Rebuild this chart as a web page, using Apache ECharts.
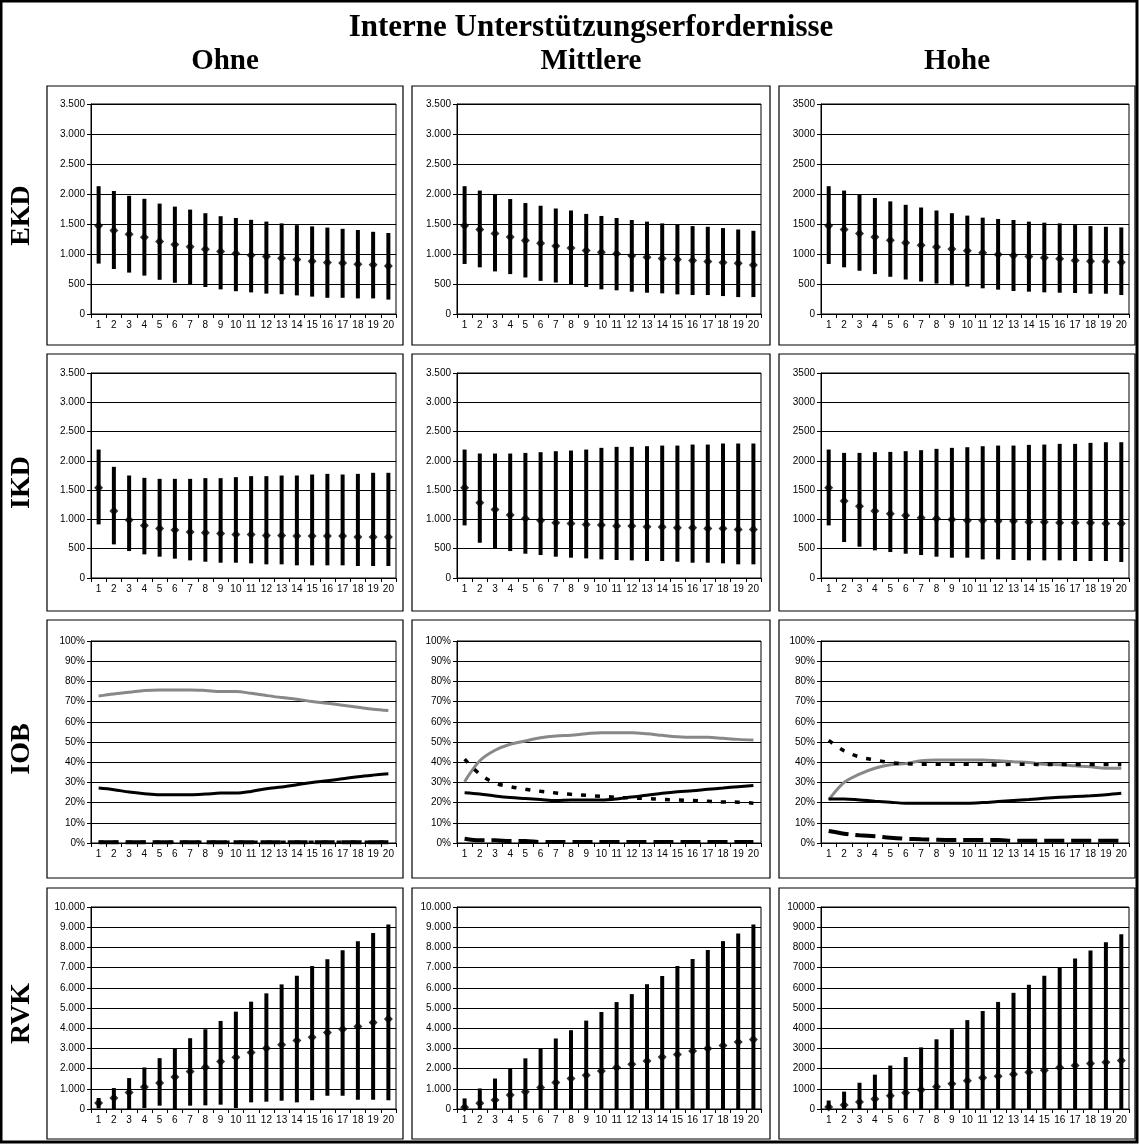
<!DOCTYPE html>
<html>
<head>
<meta charset="utf-8">
<title>Interne Unterstützungserfordernisse</title>
<script src="https://cdn.jsdelivr.net/npm/echarts@6/dist/echarts.min.js"></script>
<style>
  html, body { margin: 0; padding: 0; background: #fff; }
  #chart { width: 1139px; height: 1144px; }
</style>
</head>
<body>
<div id="chart"></div>
<script>
// ---- Labels ----
const mainTitle = 'Interne Unterstützungserfordernisse';
const columnTitles = ['Ohne', 'Mittlere', 'Hohe'];
const rowTitles = ['EKD', 'IKD', 'IOB', 'RVK'];
const periods = ['1','2','3','4','5','6','7','8','9','10','11','12','13','14','15','16','17','18','19','20'];

// ---- EKD: upper end, mean, lower end per period ----
const ekdOhneHigh = [2130,2050,1970,1920,1840,1790,1740,1680,1630,1600,1570,1540,1510,1480,1460,1440,1420,1400,1370,1350];
const ekdOhneMean = [1470,1390,1330,1280,1210,1160,1120,1080,1040,1010,980,960,930,910,880,860,850,830,820,800];
const ekdOhneLow  = [840,750,690,640,570,520,490,450,410,380,360,340,330,310,290,270,270,260,260,240];

const ekdMittlereHigh = [2130,2057,1990,1916,1849,1804,1758,1725,1668,1634,1600,1567,1539,1510,1488,1465,1454,1432,1409,1387];
const ekdMittlereMean = [1470,1409,1341,1285,1223,1178,1133,1099,1060,1031,1003,969,947,924,907,890,873,857,845,817];
const ekdMittlereLow  = [834,778,710,665,609,552,524,485,451,411,395,372,355,344,327,316,316,299,282,282];

const ekdHoheHigh = [2130,2057,1990,1933,1877,1820,1775,1725,1680,1640,1606,1584,1567,1539,1522,1510,1482,1465,1454,1443];
const ekdHoheMean = [1470,1409,1341,1285,1229,1189,1144,1116,1082,1054,1020,992,975,958,936,919,890,879,873,862];
const ekdHoheLow  = [834,778,721,665,620,575,541,507,479,457,428,406,383,372,361,355,350,338,338,316];

// ---- IKD ----
const ikdOhneHigh = [2193,1898,1750,1710,1693,1693,1693,1705,1705,1722,1739,1739,1750,1750,1767,1778,1767,1778,1796,1796];
const ikdOhneMean = [1540,1142,989,898,847,818,784,773,761,744,744,727,727,716,716,716,716,699,699,699];
const ikdOhneLow  = [915,574,460,403,364,330,301,278,261,261,250,233,233,216,216,216,216,205,205,205];

const ikdMittlereHigh = [2193,2125,2125,2125,2136,2148,2165,2176,2193,2222,2239,2239,2250,2261,2261,2278,2278,2296,2296,2296];
const ikdMittlereMean = [1540,1284,1170,1074,1017,983,943,932,915,903,886,886,875,869,858,858,847,847,830,830];
const ikdMittlereLow  = [898,602,500,460,415,392,364,347,335,318,307,301,290,290,278,261,261,250,233,233];

const ikdHoheHigh = [2193,2136,2136,2148,2153,2165,2182,2205,2222,2233,2250,2261,2261,2273,2278,2290,2290,2307,2318,2318];
const ikdHoheMean = [1540,1313,1227,1142,1097,1068,1028,1017,1000,983,983,972,972,955,955,943,943,943,932,932];
const ikdHoheLow  = [898,614,534,472,443,415,392,364,347,347,318,318,307,301,301,301,290,290,290,273];

// ---- IOB (percent) ----
const iobOhneGrey   = [72.8,73.8,74.6,75.5,75.8,75.8,75.8,75.5,75.0,75.0,74.1,73.0,72.0,71.2,70.0,69.2,68.2,67.2,66.2,65.6];
const iobOhneSolid  = [27.2,26.4,25.2,24.4,23.9,23.9,23.9,24.2,24.7,24.7,25.5,26.9,27.7,28.8,30.0,30.8,31.8,32.8,33.6,34.3];
const iobOhneDotted = [0.4,0.4,0.4,0.4,0.4,0.4,0.4,0.4,0.4,0.4,0.4,0.4,0.4,0.4,0.4,0.4,0.4,0.4,0.4,0.4];
const iobOhneDashed = [0.4,0.4,0.4,0.4,0.4,0.4,0.4,0.4,0.4,0.4,0.4,0.4,0.4,0.4,0.4,0.4,0.4,0.4,0.4,0.4];

const iobMittlereGrey   = [30.3,40.7,45.9,48.9,50.5,52.1,53.0,53.4,54.1,54.6,54.6,54.6,54.1,53.3,52.6,52.3,52.3,51.8,51.3,51.0];
const iobMittlereSolid  = [24.9,24.3,23.3,22.5,22.0,21.5,21.0,21.3,21.3,21.3,21.8,22.8,23.6,24.6,25.4,25.9,26.6,27.2,27.9,28.5];
const iobMittlereDotted = [41.5,34.1,29.7,27.9,26.6,25.6,24.8,24.1,23.6,23.1,22.6,22.3,22.0,21.6,21.3,21.1,20.7,20.3,20.2,19.7];
const iobMittlereDashed = [2.1,1.3,1.3,1.0,1.0,0.5,0.5,0.5,0.5,0.5,0.5,0.5,0.5,0.5,0.5,0.5,0.5,0.5,0.5,0.5];

const iobHoheGrey   = [21.3,30.0,34.1,37.0,38.7,39.3,40.7,41.1,41.1,41.1,41.1,40.7,40.2,39.8,39.0,38.7,38.2,37.7,37.0,37.0];
const iobHoheSolid  = [21.8,21.8,21.3,20.7,20.2,19.7,19.7,19.7,19.7,19.7,20.0,20.5,21.0,21.5,22.1,22.6,23.0,23.4,23.9,24.6];
const iobHoheDotted = [50.8,45.6,42.6,41.1,39.8,39.3,39.0,39.0,39.0,39.0,39.0,38.6,39.0,39.0,38.8,38.8,38.8,38.8,38.8,38.8];
const iobHoheDashed = [5.9,4.6,3.8,3.3,2.6,2.1,1.8,1.6,1.5,1.5,1.5,1.5,1.1,1.1,1.1,1.1,1.1,1.1,1.1,1.1];

// ---- RVK ----
const rvkOhneHigh = [543,1036,1530,2056,2517,3010,3504,3948,4359,4820,5313,5725,6169,6597,7074,7419,7863,8307,8719,9130];
const rvkOhneMean = [296,543,822,1086,1283,1579,1859,2073,2352,2566,2797,3010,3175,3389,3553,3784,3948,4080,4277,4458];
const rvkOhneLow  = [30,0,0,49,165,0,165,181,214,49,329,362,411,329,428,658,658,461,461,428];

const rvkMittlereHigh = [524,1016,1508,2016,2508,3000,3491,3901,4376,4802,5294,5687,6179,6589,7081,7425,7868,8310,8687,9129];
const rvkMittlereMean = [82,279,443,688,852,1065,1311,1508,1672,1885,2049,2213,2377,2573,2704,2868,2999,3147,3311,3442];
const rvkMittlereLow  = [0,0,0,0,0,0,0,0,0,0,0,0,0,0,0,0,0,0,0,0];

const rvkHoheHigh = [420,860,1300,1700,2150,2570,3050,3450,3950,4400,4850,5300,5750,6150,6600,7000,7450,7850,8250,8650];
const rvkHoheMean = [100,200,350,500,650,800,950,1100,1250,1400,1550,1620,1720,1820,1920,2050,2150,2250,2320,2400];
const rvkHoheLow  = [0,0,0,0,0,0,0,0,0,0,0,0,0,0,0,0,0,0,0,0];

// ---- Page geometry ----
const plotLeft   = [91, 457, 821];
const plotRight  = [396, 761, 1129];
const plotTop    = [104, 373, 641, 907];
const plotBottom = [314, 578, 843, 1109];
const boxX = [[47, 403], [412, 770], [779, 1135]];
const boxY = [[86, 345], [354, 611], [620, 878], [888, 1139]];

const sansFont = 'Liberation Sans, Arial, sans-serif';
const serifFont = 'Liberation Serif, Times New Roman, serif';

function withDots(v) {
  return String(v).replace(/\B(?=(\d{3})+(?!\d))/g, '.');
}

// Panel definitions: kind 'range' = min/max bars with mean marker, 'share' = lines
const panels = [
  { row: 0, col: 0, kind: 'range', max: 3500, step: 500, high: ekdOhneHigh, mean: ekdOhneMean, low: ekdOhneLow },
  { row: 0, col: 1, kind: 'range', max: 3500, step: 500, high: ekdMittlereHigh, mean: ekdMittlereMean, low: ekdMittlereLow },
  { row: 0, col: 2, kind: 'range', max: 3500, step: 500, high: ekdHoheHigh, mean: ekdHoheMean, low: ekdHoheLow },
  { row: 1, col: 0, kind: 'range', max: 3500, step: 500, high: ikdOhneHigh, mean: ikdOhneMean, low: ikdOhneLow },
  { row: 1, col: 1, kind: 'range', max: 3500, step: 500, high: ikdMittlereHigh, mean: ikdMittlereMean, low: ikdMittlereLow },
  { row: 1, col: 2, kind: 'range', max: 3500, step: 500, high: ikdHoheHigh, mean: ikdHoheMean, low: ikdHoheLow },
  { row: 2, col: 0, kind: 'share', grey: iobOhneGrey, solid: iobOhneSolid, dotted: iobOhneDotted, dashed: iobOhneDashed },
  { row: 2, col: 1, kind: 'share', grey: iobMittlereGrey, solid: iobMittlereSolid, dotted: iobMittlereDotted, dashed: iobMittlereDashed },
  { row: 2, col: 2, kind: 'share', grey: iobHoheGrey, solid: iobHoheSolid, dotted: iobHoheDotted, dashed: iobHoheDashed },
  { row: 3, col: 0, kind: 'range', max: 10000, step: 1000, high: rvkOhneHigh, mean: rvkOhneMean, low: rvkOhneLow },
  { row: 3, col: 1, kind: 'range', max: 10000, step: 1000, high: rvkMittlereHigh, mean: rvkMittlereMean, low: rvkMittlereLow },
  { row: 3, col: 2, kind: 'range', max: 10000, step: 1000, high: rvkHoheHigh, mean: rvkHoheMean, low: rvkHoheLow }
];

const grids = [], xAxes = [], yAxes = [], series = [];

function rangeBar(params, api) {
  const x = api.value(0);
  const lo = api.coord([x, api.value(1)]);
  const hi = api.coord([x, api.value(2)]);
  return {
    type: 'line',
    shape: { x1: lo[0], y1: lo[1], x2: hi[0], y2: hi[1] },
    style: { stroke: '#000', lineWidth: 4, lineCap: 'butt' }
  };
}

panels.forEach((p, i) => {
  grids.push({
    left: plotLeft[p.col],
    top: plotTop[p.row],
    width: plotRight[p.col] - plotLeft[p.col],
    height: plotBottom[p.row] - plotTop[p.row],
    show: true,
    borderColor: '#000',
    borderWidth: 1,
    backgroundColor: 'transparent'
  });
  xAxes.push({
    type: 'category',
    gridIndex: i,
    data: periods,
    boundaryGap: true,
    axisLine: { show: true, lineStyle: { color: '#000', width: 1 } },
    axisTick: { show: true, length: 4, inside: false, lineStyle: { color: '#000' } },
    axisLabel: { interval: 0, margin: 6, color: '#000', fontSize: 10, fontFamily: sansFont },
    splitLine: { show: false }
  });
  const isShare = p.kind === 'share';
  yAxes.push({
    type: 'value',
    gridIndex: i,
    min: 0,
    max: isShare ? 100 : p.max,
    interval: isShare ? 10 : p.step,
    axisLine: { show: true, lineStyle: { color: '#000', width: 1 } },
    axisTick: { show: true, length: 4, lineStyle: { color: '#000' } },
    axisLabel: {
      margin: 6, color: '#000', fontSize: 10, fontFamily: sansFont,
      formatter: isShare ? (v => v + '%') : (v => p.col === 2 ? String(v) : withDots(v))
    },
    splitLine: { show: true, lineStyle: { color: '#000', width: 1 } }
  });

  if (p.kind === 'range') {
    series.push({
      type: 'custom',
      xAxisIndex: i, yAxisIndex: i,
      renderItem: rangeBar,
      encode: { x: 0, y: [1, 2] },
      data: periods.map((c, k) => [k, p.low[k], p.high[k]]),
      z: 3,
      silent: true
    });
    series.push({
      type: 'scatter',
      xAxisIndex: i, yAxisIndex: i,
      symbol: 'diamond',
      symbolSize: 9,
      itemStyle: { color: '#000' },
      data: p.mean.map((v, k) => [k, v]),
      z: 4,
      silent: true
    });
  } else {
    const lineDefs = [
      { data: p.grey,   color: '#888', width: 3, type: 'solid' },
      { data: p.solid,  color: '#000', width: 3, type: 'solid' },
      { data: p.dotted, color: '#000', width: 3.5, type: [5, 9] },
      { data: p.dashed, color: '#000', width: 4, type: [20, 7] }
    ];
    lineDefs.forEach(d => {
      series.push({
        type: 'line',
        xAxisIndex: i, yAxisIndex: i,
        data: d.data,
        smooth: 0.35,
        symbol: 'none',
        lineStyle: { color: d.color, width: d.width, type: d.type, cap: 'butt' },
        z: 3,
        silent: true
      });
    });
  }
});

// Frames, headings and row labels
const graphics = [];
graphics.push({
  type: 'rect', shape: { x: 1, y: 1, width: 1136, height: 1141 },
  style: { fill: 'none', stroke: '#000', lineWidth: 3 }, z: 0
});
for (let r = 0; r < 4; r++) {
  for (let c = 0; c < 3; c++) {
    graphics.push({
      type: 'rect',
      shape: { x: boxX[c][0], y: boxY[r][0], width: boxX[c][1] - boxX[c][0], height: boxY[r][1] - boxY[r][0] },
      style: { fill: 'none', stroke: '#000', lineWidth: 1.2 },
      z: 0
    });
  }
}
graphics.push({
  type: 'text', x: 591, y: 28,
  style: { text: mainTitle, font: 'bold 31px ' + serifFont, fill: '#000', align: 'center', verticalAlign: 'middle' }
});
columnTitles.forEach((t, c) => {
  graphics.push({
    type: 'text', x: (boxX[c][0] + boxX[c][1]) / 2, y: 62,
    style: { text: t, font: 'bold 29px ' + serifFont, fill: '#000', align: 'center', verticalAlign: 'middle' }
  });
});
rowTitles.forEach((t, r) => {
  graphics.push({
    type: 'text', x: 22, y: (boxY[r][0] + boxY[r][1]) / 2,
    rotation: Math.PI / 2,
    style: { text: t, font: 'bold 28px ' + serifFont, fill: '#000', align: 'center', verticalAlign: 'middle' }
  });
});

const chart = echarts.init(document.getElementById('chart'), null, { renderer: 'canvas' });
chart.setOption({
  animation: false,
  backgroundColor: '#fff',
  grid: grids,
  xAxis: xAxes,
  yAxis: yAxes,
  series: series,
  graphic: graphics
});
</script>
</body>
</html>
